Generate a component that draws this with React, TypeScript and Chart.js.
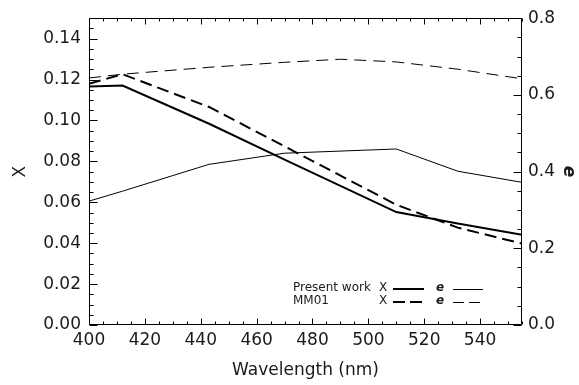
import React, { useEffect, useRef } from 'react';
import { Chart, registerables } from 'chart.js';

Chart.register(...registerables);

// ---- Data ----
const wavelengthPW = [400, 412, 443, 470, 510, 532, 555];
const xPresent = [0.1166, 0.1171, 0.0984, 0.0809, 0.0552, 0.0496, 0.0441];
const ePresent = [0.323, 0.349, 0.419, 0.448, 0.459, 0.401, 0.372];

const wavelengthMMX = [400, 412, 443, 510, 532, 555];
const xMM01 = [0.1179, 0.1226, 0.1066, 0.0588, 0.0476, 0.0398];

const wavelengthMME = [400, 412, 443, 470, 490, 510, 532, 555];
const eMM01 = [0.644, 0.654, 0.672, 0.685, 0.693, 0.686, 0.667, 0.642];

const xTicks = [400, 420, 440, 460, 480, 500, 520, 540];
const leftTicks = [0, 0.02, 0.04, 0.06, 0.08, 0.1, 0.12, 0.14];
const rightTicks = [0, 0.2, 0.4, 0.6, 0.8];

const legendNames = ['Present work', 'MM01'];
const xTitle = 'Wavelength (nm)';
const leftTitle = 'X';
const rightTitle = 'e';

const FONT = '"DejaVu Sans", sans-serif';
const TEXT = '#1a1a1a';

const toPts = (xs: number[], ys: number[]) => xs.map((x, i) => ({ x, y: ys[i] }));

const framePlugin = {
  id: 'idlFrame',
  afterDatasetsDraw(chart: any) {
    const { ctx, chartArea: a, scales } = chart;
    const sx = scales.x, sl = scales.yL, sr = scales.yR;
    ctx.save();
    ctx.strokeStyle = '#000';
    ctx.lineWidth = 1;
    ctx.setLineDash([]);
    const L = Math.round(a.left) + 0.5, R = Math.round(a.right) - 0.5;
    const T = Math.round(a.top) + 0.5, B = Math.round(a.bottom) - 0.5;
    ctx.beginPath();
    ctx.moveTo(L, T); ctx.lineTo(R, T); ctx.lineTo(R, B); ctx.lineTo(L, B); ctx.closePath();
    ctx.stroke();
    ctx.beginPath();
    // x ticks (bottom and top), minor every 5
    for (let v = sx.min; v <= sx.max + 1e-9; v += 5) {
      const major = Math.abs(v % 20) < 1e-6;
      const len = major ? 6 : 3;
      const px = Math.round(sx.getPixelForValue(v)) + 0.5;
      ctx.moveTo(px, B); ctx.lineTo(px, B - len);
      ctx.moveTo(px, T); ctx.lineTo(px, T + len);
    }
    // left y ticks, minor every 0.005
    for (let i = 0; i * 0.005 <= sl.max + 1e-9; i++) {
      const v = i * 0.005;
      const major = i % 4 === 0;
      const len = major ? 8 : 4;
      const py = Math.round(sl.getPixelForValue(v)) + 0.5;
      ctx.moveTo(L, py); ctx.lineTo(L + len, py);
    }
    // right y ticks, minor every 0.05
    for (let i = 0; i * 0.05 <= sr.max + 1e-9; i++) {
      const v = i * 0.05;
      const major = i % 4 === 0;
      const len = major ? 8 : 4;
      const py = Math.round(sr.getPixelForValue(v)) + 0.5;
      ctx.moveTo(R, py); ctx.lineTo(R - len, py);
    }
    ctx.stroke();

    // legend
    ctx.fillStyle = TEXT;
    ctx.textBaseline = 'alphabetic';
    const rows = [
      { y: 291, dash: false },
      { y: 304, dash: true },
    ];
    rows.forEach((r, i) => {
      ctx.font = `12px ${FONT}`;
      ctx.fillText(legendNames[i], 293, r.y);
      ctx.fillText('X', 379, r.y);
      ctx.font = `italic bold 12px ${FONT}`;
      ctx.fillText('e', 436, r.y);
      const ly = r.y - 2;
      ctx.strokeStyle = '#000';
      ctx.lineWidth = 2;
      ctx.setLineDash(r.dash ? [12, 5] : []);
      ctx.beginPath(); ctx.moveTo(393, ly); ctx.lineTo(424, ly); ctx.stroke();
      ctx.lineWidth = 1;
      ctx.setLineDash(r.dash ? [11, 5] : []);
      ctx.beginPath(); ctx.moveTo(453, ly + 0.5); ctx.lineTo(483, ly + 0.5); ctx.stroke();
    });
    ctx.restore();
  },
};

export default function App() {
  const ref = useRef<HTMLCanvasElement>(null);
  useEffect(() => {
    document.body.style.margin = '0';
    const canvas = ref.current!;
    const tickFont = { family: FONT, size: 17 };
    const chart = new Chart(canvas, {
      type: 'line',
      data: {
        datasets: [
          {
            label: 'Present work X',
            data: toPts(wavelengthPW, xPresent),
            yAxisID: 'yL',
            borderColor: '#000',
            borderWidth: 2,
            pointRadius: 0,
            tension: 0,
          },
          {
            label: 'MM01 X',
            data: toPts(wavelengthMMX, xMM01),
            yAxisID: 'yL',
            borderColor: '#000',
            borderWidth: 2,
            borderDash: [12, 6],
            pointRadius: 0,
            tension: 0,
          },
          {
            label: 'Present work e',
            data: toPts(wavelengthPW, ePresent),
            yAxisID: 'yR',
            borderColor: '#000',
            borderWidth: 1,
            pointRadius: 0,
            tension: 0,
          },
          {
            label: 'MM01 e',
            data: toPts(wavelengthMME, eMM01),
            yAxisID: 'yR',
            borderColor: '#000',
            borderWidth: 1,
            borderDash: [12, 7],
            pointRadius: 0,
            tension: 0,
          },
        ],
      },
      options: {
        responsive: false,
        animation: false,
        devicePixelRatio: 1,
        parsing: true,
        layout: { padding: { top: 11, left: 0, right: 0, bottom: 0 } },
        plugins: { legend: { display: false }, tooltip: { enabled: false } },
        scales: {
          x: {
            type: 'linear',
            position: 'bottom',
            min: 400,
            max: 555,
            grid: { display: false, drawTicks: false },
            border: { display: false },
            afterBuildTicks: (s: any) => { s.ticks = xTicks.map((v) => ({ value: v })); },
            afterFit: (s: any) => { s.height = 60; },
            ticks: { font: tickFont, color: TEXT, padding: 5, maxRotation: 0, callback: (v: any) => String(v) },
            title: { display: true, text: xTitle, font: tickFont, color: TEXT, padding: { top: 0, bottom: 4 } },
          },
          yL: {
            type: 'linear',
            position: 'left',
            min: 0,
            max: 0.15,
            grid: { display: false, drawTicks: false },
            border: { display: false },
            afterBuildTicks: (s: any) => { s.ticks = leftTicks.map((v) => ({ value: v })); },
            afterFit: (s: any) => { s.width = 89; },
            ticks: { font: tickFont, color: TEXT, padding: 8, callback: (v: any) => Number(v).toFixed(2) },
            title: { display: true, text: leftTitle, font: tickFont, color: TEXT, padding: { top: 10, bottom: 0 } },
          },
          yR: {
            type: 'linear',
            position: 'right',
            min: 0,
            max: 0.8,
            grid: { display: false, drawTicks: false },
            border: { display: false },
            afterBuildTicks: (s: any) => { s.ticks = rightTicks.map((v) => ({ value: v })); },
            afterFit: (s: any) => { s.width = 57; },
            ticks: { font: tickFont, color: TEXT, padding: 6, callback: (v: any) => Number(v).toFixed(1) },
            title: {
              display: true,
              text: rightTitle,
              font: { family: FONT, size: 17, style: 'italic', weight: 'bold' },
              color: TEXT,
              padding: { top: 0, bottom: 0 },
            },
          },
        },
      },
      plugins: [framePlugin],
    } as any);
    return () => chart.destroy();
  }, []);
  return (
    <div style={{ width: 579, height: 385 }}>
      <canvas ref={ref} width={579} height={385} style={{ display: 'block' }} />
    </div>
  );
}
